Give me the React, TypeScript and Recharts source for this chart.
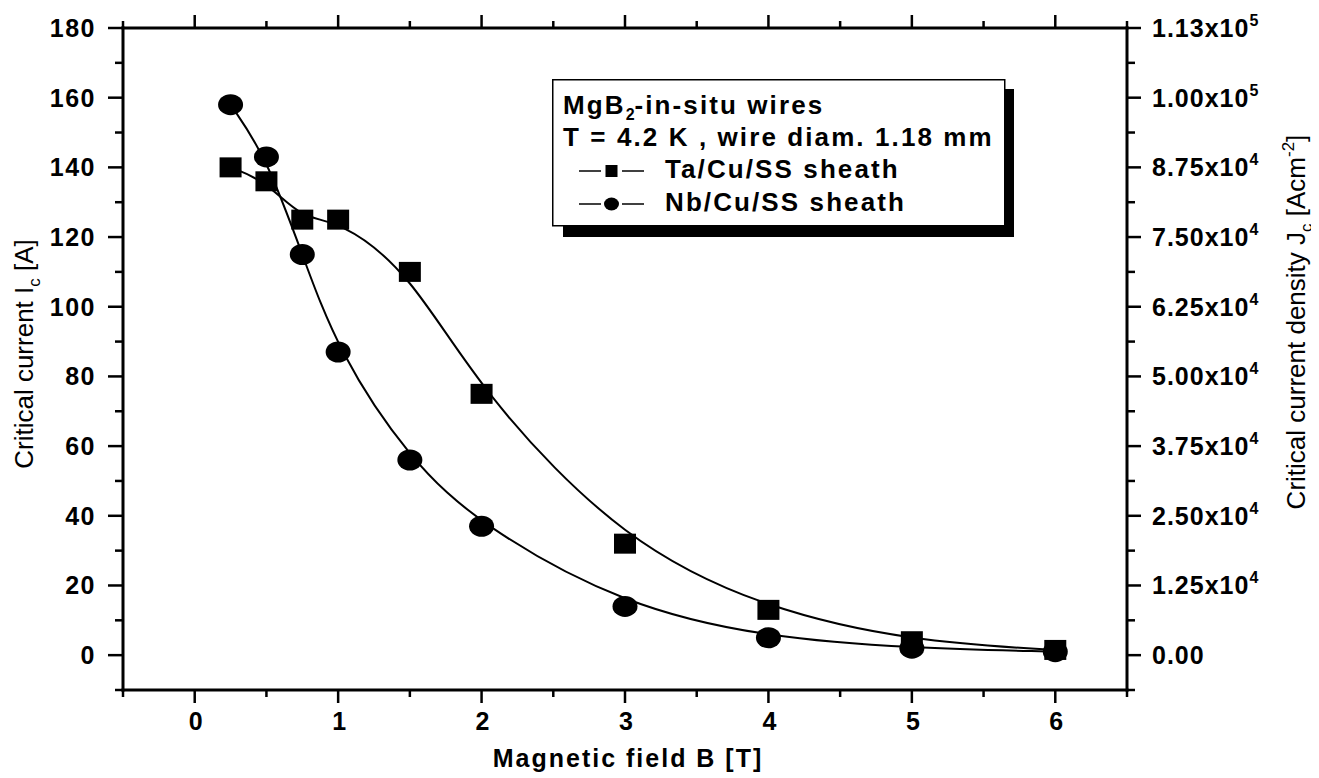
import React from 'react';
import { LineChart, Line, XAxis, YAxis, Legend } from 'recharts';

// ---- data ----
const fieldB = [0.25, 0.5, 0.75, 1, 1.5, 2, 3, 4, 5, 6];
const taCuSS = [140, 136, 125, 125, 110, 75, 32, 13, 4, 1.5];
const nbCuSS = [158, 143, 115, 87, 56, 37, 14, 5, 2, 1];

const seriesNames = ['Ta/Cu/SS sheath', 'Nb/Cu/SS sheath'];

// ---- ticks ----
const xTicks = [-0.5, 0, 0.5, 1, 1.5, 2, 2.5, 3, 3.5, 4, 4.5, 5, 5.5, 6, 6.5];
const xMajor = [0, 1, 2, 3, 4, 5, 6];
const yLeftTicks = [-10, 0, 10, 20, 30, 40, 50, 60, 70, 80, 90, 100, 110, 120, 130, 140, 150, 160, 170, 180];
const yLeftMajor = [0, 20, 40, 60, 80, 100, 120, 140, 160, 180];
const yRightTicks = [-6250, 0, 6250, 12500, 18750, 25000, 31250, 37500, 43750, 50000, 56250, 62500, 68750, 75000, 81250, 87500, 93750, 100000, 106250, 112500];
const yRightMajor = [0, 12500, 25000, 37500, 50000, 62500, 75000, 87500, 100000, 112500];
const yRightMantissa = ['0.00', '1.25', '2.50', '3.75', '5.00', '6.25', '7.50', '8.75', '1.00', '1.13'];
const yRightExponent = ['', '4', '4', '4', '4', '4', '4', '4', '5', '5'];

const data = fieldB.map((b, i) => ({ b, ta: taCuSS[i], nb: nbCuSS[i] }));

const FONT = '"Liberation Sans", Arial, Helvetica, sans-serif';
const TICK_W = 2.5;

const LeftTick = (props: any) => {
  const { x, y, payload } = props;
  const v = payload.value;
  const major = yLeftMajor.includes(v);
  return (
    <g>
      <line x1={x} y1={y} x2={x - (major ? 15 : 8)} y2={y} stroke="#000" strokeWidth={TICK_W} />
      {major && (
        <text x={x - 27} y={y + 9} textAnchor="end" fontFamily={FONT} fontWeight="bold" fontSize={25} letterSpacing={1.5} fill="#000">
          {v}
        </text>
      )}
    </g>
  );
};

const RightTick = (props: any) => {
  const { x, y, payload } = props;
  const idx = yRightMajor.indexOf(payload.value);
  const major = idx >= 0;
  return (
    <g>
      <line x1={x} y1={y} x2={x + (major ? 14 : 8)} y2={y} stroke="#000" strokeWidth={TICK_W} />
      {major && (
        <text x={x + 25} y={y + 9} textAnchor="start" fontFamily={FONT} fontWeight="bold" fontSize={25} letterSpacing={1} fill="#000">
          {yRightMantissa[idx]}
          {yRightExponent[idx] ? 'x10' : ''}
          {yRightExponent[idx] ? (
            <tspan dy={-11} fontSize={16} letterSpacing={0}>
              {yRightExponent[idx]}
            </tspan>
          ) : null}
        </text>
      )}
    </g>
  );
};

const BottomTick = (props: any) => {
  const { x, y, payload } = props;
  const v = payload.value;
  const major = xMajor.includes(v);
  return (
    <g>
      <line x1={x} y1={y} x2={x} y2={y + (major ? 13 : 7)} stroke="#000" strokeWidth={TICK_W} />
      {major && (
        <text x={x + 1} y={y + 40} textAnchor="middle" fontFamily={FONT} fontWeight="bold" fontSize={25} fill="#000">
          {v}
        </text>
      )}
    </g>
  );
};

const TopTick = (props: any) => {
  const { x, y, payload } = props;
  const major = xMajor.includes(payload.value);
  return (
    <g>
      <line x1={x} y1={y} x2={x} y2={y - (major ? 13 : 7)} stroke="#000" strokeWidth={TICK_W} />
    </g>
  );
};

const XTitle = (props: any) => {
  const vb = props.viewBox;
  const cx = vb.x + vb.width / 2 + 3;
  const by = vb.y + 77;
  return (
    <text x={cx} y={by} textAnchor="middle" fontFamily={FONT} fontWeight="bold" fontSize={25} letterSpacing={2} fill="#000">
      Magnetic field B [T]
    </text>
  );
};

const LeftTitle = (props: any) => {
  const vb = props.viewBox;
  const cx = vb.x - 30;
  const cy = vb.y + vb.height / 2 - 5;
  return (
    <text x={cx} y={cy} transform={`rotate(-90 ${cx} ${cy})`} textAnchor="middle" fontFamily={FONT} fontSize={26} fill="#000">
      Critical current I
      <tspan dy={7} fontSize={17}>c</tspan>
      <tspan dy={-7}> [A]</tspan>
    </text>
  );
};

const RightTitle = (props: any) => {
  const vb = props.viewBox;
  const cx = vb.x + 178;
  const cy = 314;
  return (
    <text x={cx} y={cy} transform={`rotate(-90 ${cx} ${cy})`} textAnchor="middle" fontFamily={FONT} fontSize={26} fill="#000">
      Critical current density J
      <tspan dy={7} fontSize={17}>c</tspan>
      <tspan dy={-7}> [Acm</tspan>
      <tspan dy={-11} fontSize={17}>-2</tspan>
      <tspan dy={11}>]</tspan>
    </text>
  );
};

const SquareDot = (props: any) => {
  const { cx, cy, index } = props;
  if (cx == null || cy == null) return <g key={`s${index}`} />;
  return <rect key={`s${index}`} x={cx - 11} y={cy - 10} width={22} height={20} fill="#000" />;
};

const CircleDot = (props: any) => {
  const { cx, cy, index } = props;
  if (cx == null || cy == null) return <g key={`c${index}`} />;
  return <ellipse key={`c${index}`} cx={cx} cy={cy} rx={12.5} ry={10.5} fill="#000" />;
};

const LegendIcon = ({ y, kind }: { y: number; kind: 'square' | 'circle' }) => (
  <g>
    <line x1={27} y1={y} x2={49} y2={y} stroke="#000" strokeWidth={1.5} />
    <line x1={70} y1={y} x2={92} y2={y} stroke="#000" strokeWidth={1.5} />
    {kind === 'square' ? (
      <rect x={53.5} y={y - 6} width={12} height={12} fill="#000" />
    ) : (
      <ellipse cx={59.5} cy={y} rx={7.5} ry={6.5} fill="#000" />
    )}
  </g>
);

const LegendBox = () => {
  const rowY = [35, 67, 99, 132];
  return (
    <svg width={475} height={170} style={{ display: 'block', overflow: 'visible' }}>
      <rect x={11} y={10} width={451} height={148} fill="#000" />
      <rect x={0.75} y={0.75} width={452} height={146} fill="#fff" stroke="#000" strokeWidth={1.5} />
      <g fontFamily={FONT} fontWeight="bold" fontSize={26} fill="#000" letterSpacing={2.1}>
        <text x={11} y={rowY[0]}>
          MgB
          <tspan dy={6} fontSize={16} letterSpacing={0}>2</tspan>
          <tspan dy={-6}>-in-situ wires</tspan>
        </text>
        <text x={11} y={rowY[1]}>T = 4.2 K , wire diam. 1.18 mm</text>
        <LegendIcon y={rowY[2] - 7} kind="square" />
        <text x={113} y={rowY[2]}>{seriesNames[0]}</text>
        <LegendIcon y={rowY[3] - 7} kind="circle" />
        <text x={113} y={rowY[3]}>{seriesNames[1]}</text>
      </g>
    </svg>
  );
};

const axisLineStyle = { stroke: '#000', strokeWidth: 3, strokeLinecap: 'square' as const };

export default function App() {
  return (
    <div style={{ width: 1311, height: 770, position: 'relative' }}>
      <LineChart width={1311} height={770} data={data} margin={{ top: 0, right: 92, bottom: 48, left: 55 }}>
        <XAxis
          xAxisId="bottom"
          dataKey="b"
          type="number"
          domain={[-0.5, 6.5]}
          ticks={xTicks}
          interval={0}
          allowDataOverflow
          height={40}
          tickSize={0}
          tickMargin={0}
          tickLine={false}
          axisLine={axisLineStyle}
          tick={<BottomTick />}
          label={<XTitle />}
        />
        <XAxis
          xAxisId="top"
          orientation="top"
          dataKey="b"
          type="number"
          domain={[-0.5, 6.5]}
          ticks={xTicks}
          interval={0}
          allowDataOverflow
          height={20}
          tickSize={0}
          tickMargin={0}
          tickLine={false}
          axisLine={axisLineStyle}
          tick={<TopTick />}
        />
        <YAxis
          yAxisId="left"
          type="number"
          domain={[-10, 180]}
          ticks={yLeftTicks}
          interval={0}
          allowDataOverflow
          width={60}
          tickSize={0}
          tickMargin={0}
          tickLine={false}
          axisLine={axisLineStyle}
          tick={<LeftTick />}
          label={<LeftTitle />}
        />
        <YAxis
          yAxisId="right"
          orientation="right"
          type="number"
          domain={[-6250, 112500]}
          ticks={yRightTicks}
          interval={0}
          allowDataOverflow
          width={100}
          tickSize={0}
          tickMargin={0}
          tickLine={false}
          axisLine={axisLineStyle}
          tick={<RightTick />}
          label={<RightTitle />}
        />
        <Legend
          layout="horizontal"
          verticalAlign="middle"
          align="center"
          wrapperStyle={{ left: 544, top: 71, width: 475, height: 170 }}
          content={() => <LegendBox />}
        />
        <Line
          xAxisId="bottom"
          yAxisId="left"
          type="basis"
          dataKey="ta"
          name={seriesNames[0]}
          stroke="#000"
          strokeWidth={2}
          dot={SquareDot}
          activeDot={false}
          isAnimationActive={false}
        />
        <Line
          xAxisId="bottom"
          yAxisId="left"
          type="basis"
          dataKey="nb"
          name={seriesNames[1]}
          stroke="#000"
          strokeWidth={2}
          dot={CircleDot}
          activeDot={false}
          isAnimationActive={false}
        />
      </LineChart>
    </div>
  );
}
